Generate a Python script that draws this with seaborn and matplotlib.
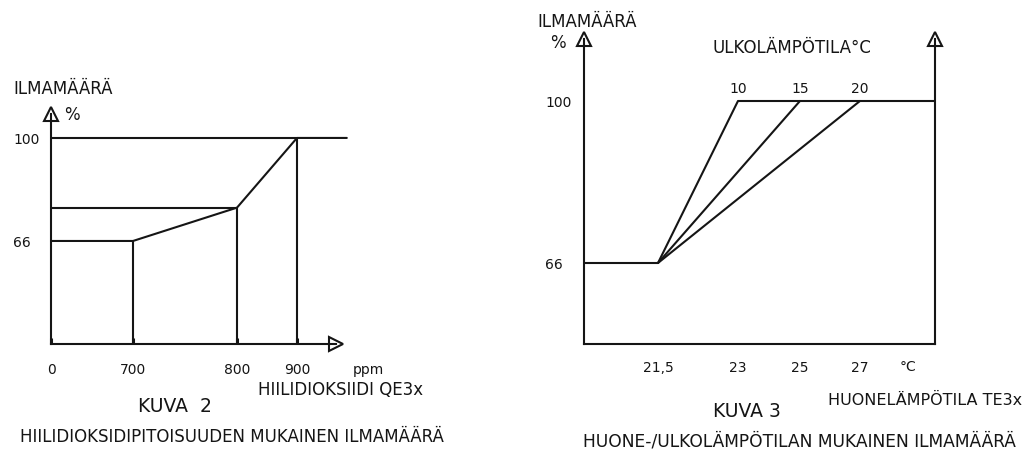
import numpy as np
import pandas as pd
import matplotlib
matplotlib.use("Agg")
import matplotlib.pyplot as plt
import seaborn as sns

# ---------------- data ----------------
# Kuva 2: air volume vs CO2
co2_ppm = [0, 700, 800, 900, 983]
co2_air = [66, 66, 77, 100, 100]
co2_ticks = [0, 700, 800, 900]
co2_tick_labels = ["0", "700", "800", "900"]

# Kuva 3: air volume vs room / outdoor temperature
room_knee = 21.5
room_full = [23, 25, 27]          # room temp where 100 % is reached
outdoor_temps = [10, 15, 20]      # outdoor temperature for each curve
room_ticks = [21.5, 23, 25, 27]
room_tick_labels = ["21,5", "23", "25", "27"]
room_range = (20, 28.5)
air_min, air_max = 66, 100

# ---------------- style ----------------
sns.set_style("white")
plt.rcParams["font.family"] = ["DejaVu Sans"]
ink = "#151515"
lw = 1.5
W, H = 1035, 452

fig = plt.figure(figsize=(W / 100, H / 100), dpi=100)


def fpos(l, t, r, b):
    return [l / W, 1 - b / H, (r - l) / W, (b - t) / H]


def ftext(x, y, s, size=12, ha="left", va="center", **kw):
    fig.text(x / W, 1 - y / H, s, fontsize=size, ha=ha, va=va, color=ink, **kw)


def piecewise(vals, pos):
    return (lambda v: np.interp(v, vals, pos), lambda p: np.interp(p, pos, vals))


# ---------------- left chart ----------------
ax1 = fig.add_axes(fpos(51, 115, 336, 345))
ax1.set_xscale("function", functions=piecewise([0, 700, 800, 900, 1000], [0, 82, 186, 246, 306]))
ax1.set_xlim(0, 965)
ax1.set_ylim(32.0, 107.9)

co2_df = pd.DataFrame({"ppm": co2_ppm, "air": co2_air})
sns.lineplot(data=co2_df, x="ppm", y="air", sort=False, estimator=None,
             color=ink, lw=lw, ax=ax1)
for ln in ax1.lines:
    ln.set_clip_on(False)

ybot1 = ax1.get_ylim()[0]
ax1.hlines([co2_air[3]], co2_ppm[0], co2_ppm[3], color=ink, lw=lw)
ax1.hlines([co2_air[2]], co2_ppm[0], co2_ppm[2], color=ink, lw=lw)
ax1.vlines(co2_ppm[1:4], ybot1, co2_air[1:4], color=ink, lw=lw)

for s in ["top", "right"]:
    ax1.spines[s].set_visible(False)
for s in ["left", "bottom"]:
    ax1.spines[s].set_color(ink)
    ax1.spines[s].set_linewidth(lw)

ax1.set_xticks(co2_ticks, co2_tick_labels)
ax1.set_yticks([air_min, air_max], [str(air_min), str(air_max)])
ax1.tick_params(axis="x", direction="in", length=4, width=2.2, color=ink,
                pad=13, labelsize=10, labelcolor=ink, bottom=True)
ax1.tick_params(axis="y", length=0, pad=27.4, labelsize=10, labelcolor=ink, left=True)
for t in ax1.get_yticklabels():
    t.set_ha("left")
ax1.set_xlabel("")
ax1.set_ylabel("")
ax1.plot([0], [1], marker="^", ms=10, mfc="white", mec=ink, mew=lw,
         transform=ax1.transAxes, clip_on=False)
ax1.plot([1], [0], marker=">", ms=10, mfc="white", mec=ink, mew=lw,
         transform=ax1.transAxes, clip_on=False)

ftext(13, 89, "ILMAMÄÄRÄ")
ftext(72, 115, "%", ha="center")
ftext(368, 370, "ppm", size=10, ha="center")
ftext(258, 390, "HIILIDIOKSIIDI QE3x")
ftext(175, 407, "KUVA  2", size=13.5, ha="center")
ftext(20, 437, "HIILIDIOKSIDIPITOISUUDEN MUKAINEN ILMAMÄÄRÄ")

# ---------------- right chart ----------------
ax2 = fig.add_axes(fpos(584, 40, 935, 345))
ax2.set_xscale("function", functions=piecewise([20, 21.5, 23, 25, 27, 28.5],
                                               [0, 74, 154, 216, 276, 351]))
ax2.set_xlim(*room_range)
ax2.set_ylim(49.0, 113.0)

rows = []
for t_out, t_full in zip(outdoor_temps, room_full):
    rows.append({"room": room_knee, "air": air_min, "outdoor": t_out})
    rows.append({"room": t_full, "air": air_max, "outdoor": t_out})
temp_df = pd.DataFrame(rows)
sns.lineplot(data=temp_df, x="room", y="air", hue="outdoor", sort=False,
             estimator=None, palette=[ink] * len(outdoor_temps), lw=lw,
             legend=False, ax=ax2)
ax2.hlines([air_min], room_range[0], room_knee, color=ink, lw=lw)
ax2.hlines([air_max], room_full[0], room_range[1], color=ink, lw=lw)

for t_out, t_full in zip(outdoor_temps, room_full):
    ax2.annotate(str(t_out), (t_full, air_max), xytext=(0, 4),
                 textcoords="offset points", ha="center", va="bottom",
                 fontsize=10, color=ink)

ax2.spines["top"].set_visible(False)
for s in ["left", "right", "bottom"]:
    ax2.spines[s].set_color(ink)
    ax2.spines[s].set_linewidth(lw)
ax2.set_xticks(room_ticks, room_tick_labels)
ax2.set_yticks([air_min, air_max], [str(air_min), str(air_max)])
ax2.tick_params(axis="x", length=0, pad=11.5, labelsize=10, labelcolor=ink, bottom=True)
ax2.tick_params(axis="y", length=0, pad=28, labelsize=10, labelcolor=ink, left=True)
for t in ax2.get_yticklabels():
    t.set_ha("left")
ax2.set_xlabel("")
ax2.set_ylabel("")
for xa in (0, 1):
    ax2.plot([xa], [1], marker="^", ms=10, mfc="white", mec=ink, mew=lw,
             transform=ax2.transAxes, clip_on=False)

ftext(537, 22, "ILMAMÄÄRÄ")
ftext(558, 43, "%", ha="center")
ftext(712, 48, "ULKOLÄMPÖTILA°C")
ftext(908, 367, "°C", size=10, ha="center")
ftext(828, 400, "HUONELÄMPÖTILA TE3x", size=11.5)
ftext(747, 412, "KUVA 3", size=13.5, ha="center")
ftext(583, 442, "HUONE-/ULKOLÄMPÖTILAN MUKAINEN ILMAMÄÄRÄ", size=12.3)

fig.savefig("out.png", dpi=100, facecolor="white")
